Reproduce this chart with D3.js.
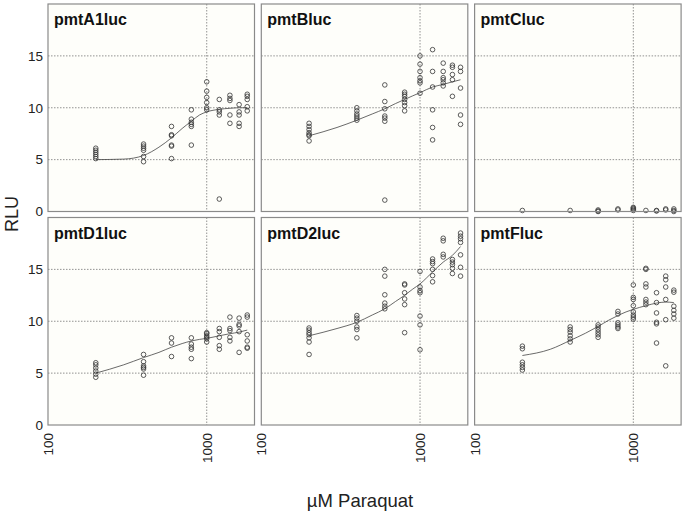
<!DOCTYPE html>
<html><head><meta charset="utf-8">
<script src="https://cdn.jsdelivr.net/npm/d3@7"></script>
<style>body{margin:0;background:#fff}svg{display:block}</style>
</head><body>
<script>
const doses = [200, 400, 600, 800, 1000, 1200, 1400, 1600, 1800];
const panelNames = ["pmtA1luc", "pmtBluc", "pmtCluc", "pmtD1luc", "pmtD2luc", "pmtFluc"];
const yTicks = [0, 5, 10, 15];
const xTickLabels = [100, 1000];

// replicate RLU readings per dose (one inner list per dose)
const pmtA1luc = [
  [6.1, 5.9, 5.7, 5.5, 5.3, 5.1],
  [6.5, 6.3, 6.1, 5.9, 5.3, 4.8],
  [8.2, 7.4, 7.3, 6.4, 6.3, 5.1],
  [9.8, 8.9, 8.6, 8.4, 8.2, 6.4],
  [12.5, 11.6, 11.0, 10.5, 10.0, 9.8],
  [10.8, 9.8, 9.6, 9.3, 1.2],
  [11.2, 10.9, 10.7, 9.3, 8.5],
  [10.3, 9.6, 9.3, 8.5, 8.2],
  [11.3, 11.1, 10.8, 10.1, 9.7]
];
const pmtBluc = [
  [8.5, 8.2, 7.9, 7.6, 7.4, 7.3, 6.8],
  [10.0, 9.7, 9.4, 9.2, 9.0, 8.8],
  [12.2, 10.6, 9.9, 9.2, 9.0, 8.7, 1.1],
  [11.5, 11.3, 11.1, 10.8, 10.5, 10.2, 9.7],
  [15.0, 14.2, 13.5, 12.9, 12.6, 12.4, 11.4],
  [15.6, 13.5, 12.0, 9.8, 8.1, 6.9],
  [14.3, 13.5, 12.9, 12.7, 12.4, 12.1],
  [14.1, 13.9, 13.2, 12.7, 11.1],
  [13.9, 13.5, 11.9, 9.3, 8.4]
];
const pmtCluc = [
  [0.1],
  [0.1],
  [0.15, 0.05, 0.0],
  [0.25, 0.15],
  [0.4, 0.3, 0.2, 0.1],
  [0.1],
  [0.1, 0.05],
  [0.25, 0.15],
  [0.25, 0.1, 0.0]
];
const pmtD1luc = [
  [6.0, 5.8, 5.5, 5.2, 4.9, 4.6],
  [6.8, 6.1, 5.7, 5.55, 5.4, 4.8],
  [8.4, 7.9, 6.6],
  [8.4, 7.8, 7.5, 7.3, 6.4],
  [8.9, 8.8, 8.6, 8.45, 8.3, 8.0],
  [9.3, 9.0, 8.45, 7.65, 7.3],
  [10.4, 9.3, 9.1, 8.45, 8.1],
  [10.3, 9.7, 9.55, 9.0, 7.0],
  [10.6, 10.4, 8.7, 8.1, 7.5, 7.4]
];
const pmtD2luc = [
  [9.35, 9.15, 8.9, 8.7, 8.4, 8.0, 6.8],
  [10.55, 10.3, 10.0, 9.45, 9.2, 8.4],
  [15.0, 14.35, 12.55, 11.75, 11.45, 11.2],
  [13.6, 13.5, 12.75, 12.15, 11.6, 8.9],
  [14.8, 13.3, 12.95, 12.75, 10.5, 9.65, 7.25],
  [16.0, 15.75, 15.55, 15.0, 14.4, 13.8],
  [18.0, 17.75, 16.45, 16.2],
  [15.95, 15.7, 15.45, 15.1, 14.6],
  [18.5, 18.2, 17.95, 17.6, 16.4, 15.2, 14.35]
];
const pmtFluc = [
  [7.6, 7.35, 6.05, 5.8, 5.55, 5.3],
  [9.45, 9.2, 8.95, 8.6, 8.3, 8.0],
  [9.65, 9.45, 9.2, 8.95, 8.7, 8.45],
  [10.95, 10.7, 9.85, 9.65, 9.45, 9.3],
  [13.5, 12.3, 12.1, 11.5, 10.9, 10.6, 10.4, 10.2],
  [15.1, 15.0, 13.6, 13.3, 12.1, 11.85, 11.6],
  [12.75, 11.8, 10.8, 9.9, 9.75, 7.9],
  [14.35, 14.0, 13.3, 12.1, 10.15, 5.7],
  [13.0, 12.8, 11.45, 11.05, 10.7, 10.3]
];

// fitted curves at these doses
const fitDoses = [200, 300, 400, 500, 600, 700, 800, 900, 1000, 1200, 1400, 1600, 1800];
const fitA1 = [5.0, 5.05, 5.4, 6.2, 7.1, 8.0, 8.7, 9.3, 9.6, 9.85, 9.95, 10.0, 10.0];
const fitB  = [7.3, 8.1, 8.8, 9.4, 9.9, 10.4, 10.8, 11.15, 11.45, 12.0, 12.25, 12.5, 12.7];
const fitD1 = [5.0, 5.8, 6.5, 7.0, 7.5, 7.85, 8.1, 8.25, 8.35, 8.6, 8.8, 8.95, 9.15];
const fitD2 = [8.6, 9.3, 9.9, 10.6, 11.2, 11.9, 12.5, 13.1, 13.6, 14.75, 15.7, 16.35, 17.2];
const fitF  = [6.7, 7.3, 8.15, 8.85, 9.5, 10.1, 10.55, 10.9, 11.15, 11.5, 11.75, 11.85, 11.8];

const panelData = [pmtA1luc, pmtBluc, pmtCluc, pmtD1luc, pmtD2luc, pmtFluc];
const panelFits = [fitA1, fitB, null, fitD1, fitD2, fitF];

const W = 685, H = 514;
const svg = d3.select("body").append("svg").attr("width", W).attr("height", H);
const font = "'Liberation Sans', Arial, sans-serif";

const colLeft = [48, 261.3, 474.6];
const rowTop = [4, 217.5];
const pw = 206.5, ph = 207.5;

const x = d3.scaleLog().domain([100, 2000]).range([0, pw]);
const y = d3.scaleLinear().domain([0, 20]).range([ph, 0]);

panelNames.forEach((name, i) => {
  const col = i % 3, row = Math.floor(i / 3);
  const g = svg.append("g").attr("transform", `translate(${colLeft[col]},${rowTop[row]})`);
  g.append("rect").attr("width", pw).attr("height", ph).attr("fill", "#fefefa");
  // grid
  g.selectAll(".hg").data(yTicks.filter(t => t > 0)).enter().append("line")
    .attr("x1", 0).attr("x2", pw).attr("y1", d => y(d)).attr("y2", d => y(d))
    .attr("stroke", "#777").attr("stroke-width", 0.8).attr("stroke-dasharray", "1.5,1.5");
  g.append("line").attr("x1", x(1000)).attr("x2", x(1000)).attr("y1", 0).attr("y2", ph)
    .attr("stroke", "#777").attr("stroke-width", 0.8).attr("stroke-dasharray", "1.5,1.5");
  // fit
  const fit = panelFits[i];
  if (fit) {
    const line = d3.line().x((d, j) => x(fitDoses[j])).y(d => y(d)).curve(d3.curveMonotoneX);
    g.append("path").attr("d", line(fit)).attr("fill", "none").attr("stroke", "#444").attr("stroke-width", 0.8);
  }
  // points
  const pts = [];
  panelData[i].forEach((vals, j) => vals.forEach(v => pts.push([doses[j], v])));
  g.selectAll("circle").data(pts).enter().append("circle")
    .attr("cx", d => x(d[0])).attr("cy", d => y(d[1])).attr("r", 2.3)
    .attr("fill", "none").attr("stroke", "#333").attr("stroke-width", 0.8);
  // border
  g.append("rect").attr("width", pw).attr("height", ph).attr("fill", "none")
    .attr("stroke", "#8a8a8a").attr("stroke-width", 1.2);
  // title
  g.append("text").attr("x", 6).attr("y", 21).text(name)
    .attr("font-family", font).attr("font-weight", "bold").attr("font-size", 16).attr("fill", "#111");
  // y axis on first column
  if (col === 0) {
    const ya = d3.axisLeft(y).tickValues(yTicks).tickSize(0).tickPadding(5);
    const ag = g.append("g").call(ya);
    ag.select(".domain").remove();
    ag.selectAll("text").attr("font-family", font).attr("font-size", 13.5).attr("fill", "#222");
  }
  // x axis on bottom row
  if (row === 1) {
    const xa = d3.axisBottom(x).tickValues(xTickLabels).tickSize(0).tickFormat(d3.format("d"));
    const ag = g.append("g").attr("transform", `translate(0,${ph})`).call(xa);
    ag.select(".domain").remove();
    ag.selectAll("text")
      .attr("font-family", font).attr("font-size", 13.5).attr("fill", "#222")
      .attr("text-anchor", "end").attr("dy", null).attr("y", 0)
      .attr("transform", "translate(4.5,8) rotate(-90)");
  }
});

svg.append("text").attr("transform", "translate(18,214) rotate(-90)").attr("text-anchor", "middle")
  .attr("font-family", font).attr("font-size", 18).attr("fill", "#222").text("RLU");
svg.append("text").attr("x", 360).attr("y", 507).attr("text-anchor", "middle")
  .attr("font-family", font).attr("font-size", 18.5).attr("fill", "#222").text("µM Paraquat");
</script>
</body></html>
